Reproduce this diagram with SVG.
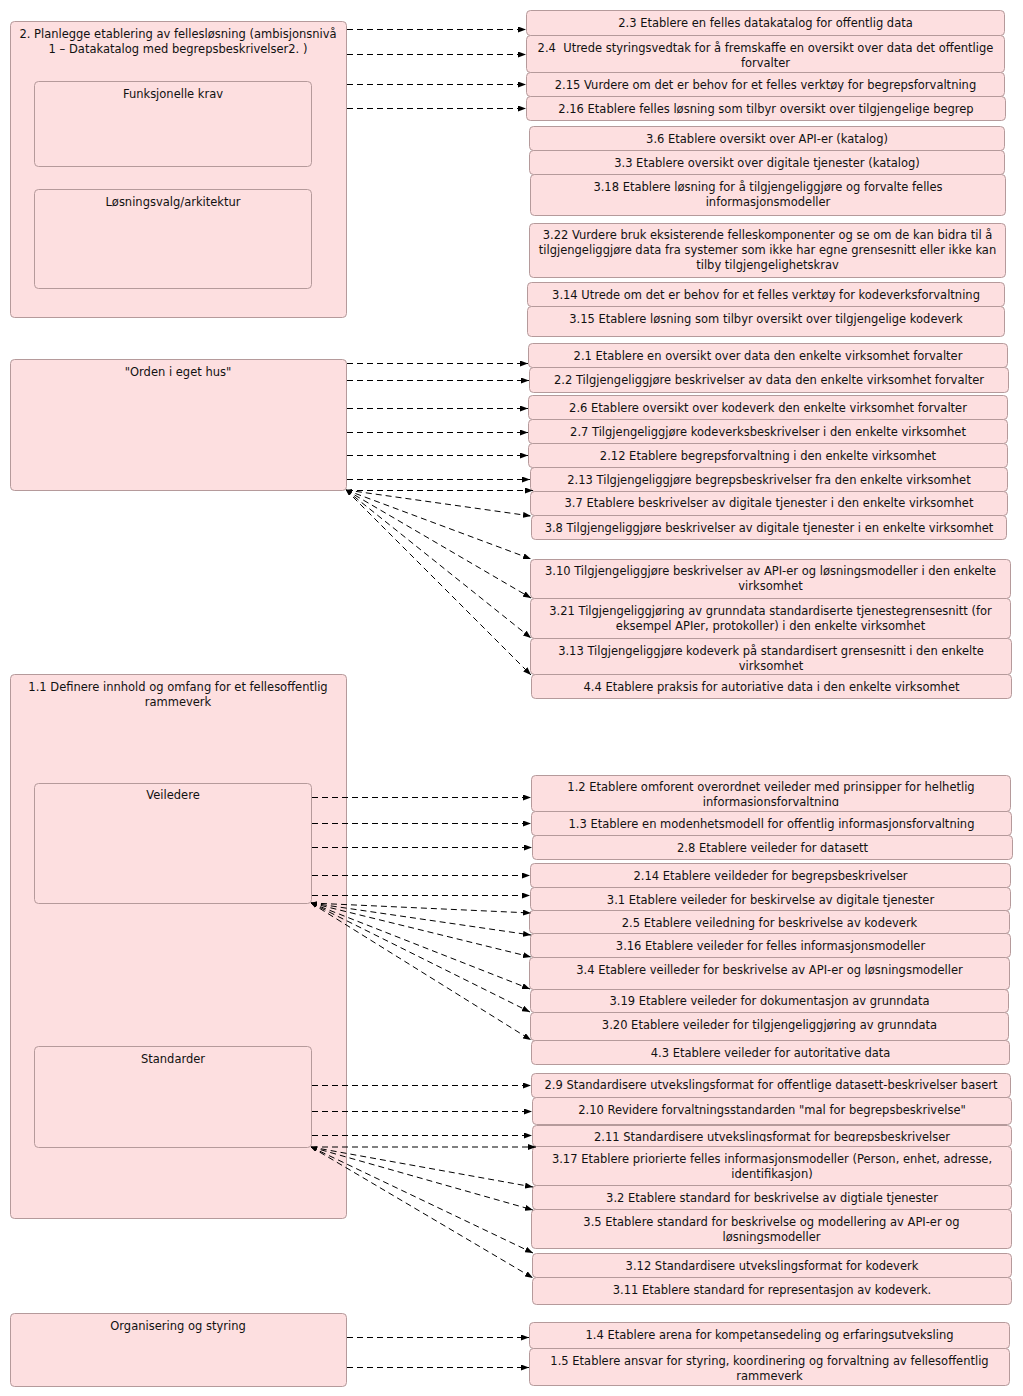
<svg xmlns="http://www.w3.org/2000/svg" width="1023" height="1396" viewBox="0 0 1023 1396">
<style>
.n rect{fill:#fddfe0;stroke:#b59a9b;stroke-width:1}
text{font-family:"DejaVu Sans","Verdana",sans-serif;font-size:11.5px;fill:#111;text-anchor:middle}
.c line{stroke:#000;stroke-width:1;stroke-dasharray:6,4;fill:none;marker-end:url(#ah)}
.c line.d{marker-start:url(#as)}
</style>
<defs>
<marker id="ah" markerUnits="userSpaceOnUse" viewBox="0 0 8 6" markerWidth="8" markerHeight="6" refX="8" refY="3" orient="auto"><path d="M0,0 L8,3 L0,6 z" fill="#000"/></marker>
<marker id="as" markerUnits="userSpaceOnUse" viewBox="0 0 6 4" markerWidth="6" markerHeight="4" refX="6" refY="2" orient="auto-start-reverse"><path d="M0,0 L6,2 L0,4 z" fill="#000"/></marker>
<clipPath id="cl12"><rect x="531" y="775" width="479" height="31"/></clipPath>
<clipPath id="cl211"><rect x="532" y="1125" width="479" height="16.5"/></clipPath>
</defs>

<!-- Left container nodes -->
<g id="n-plan" class="n"><rect x="10.5" y="21.5" width="336" height="296" rx="4"/><text x="178" y="38">2. Planlegge etablering av fellesløsning (ambisjonsnivå</text><text x="178" y="53">1 – Datakatalog med begrepsbeskrivelser2. )</text></g>
<g id="n-funk" class="n"><rect x="34.5" y="81.5" width="277" height="85" rx="4"/><text x="173" y="98">Funksjonelle krav</text></g>
<g id="n-losn" class="n"><rect x="34.5" y="189.5" width="277" height="99" rx="4"/><text x="173" y="206">Løsningsvalg/arkitektur</text></g>
<g id="n-orden" class="n"><rect x="10.5" y="359.5" width="336" height="131" rx="4"/><text x="178" y="376">"Orden i eget hus"</text></g>
<g id="n-11" class="n"><rect x="10.5" y="674.5" width="336" height="544" rx="4"/><text x="178" y="691">1.1 Definere innhold og omfang for et fellesoffentlig</text><text x="178" y="706">rammeverk</text></g>
<g id="n-veil" class="n"><rect x="34.5" y="783.5" width="277" height="120" rx="4"/><text x="173" y="799">Veiledere</text></g>
<g id="n-stand" class="n"><rect x="34.5" y="1046.5" width="277" height="101" rx="4"/><text x="173" y="1063">Standarder</text></g>
<g id="n-org" class="n"><rect x="10.5" y="1313.5" width="336" height="73" rx="4"/><text x="178" y="1330">Organisering og styring</text></g>

<!-- Right nodes: plan group -->
<g id="n-2-3" class="n"><rect x="526.5" y="10.5" width="478" height="25" rx="4"/><text x="765.5" y="27">2.3 Etablere en felles datakatalog for offentlig data</text></g>
<g id="n-2-4" class="n"><rect x="526.5" y="35.5" width="478" height="37" rx="4"/><text x="765.5" y="52">2.4 &#160;Utrede styringsvedtak for å fremskaffe en oversikt over data det offentlige</text><text x="765.5" y="67">forvalter</text></g>
<g id="n-2-15" class="n"><rect x="526.5" y="72.5" width="478" height="24" rx="4"/><text x="765.5" y="89">2.15 Vurdere om det er behov for et felles verktøy for begrepsforvaltning</text></g>
<g id="n-2-16" class="n"><rect x="526.5" y="96.5" width="479" height="24" rx="4"/><text x="766" y="113">2.16 Etablere felles løsning som tilbyr oversikt over tilgjengelige begrep</text></g>
<g id="n-3-6" class="n"><rect x="529.5" y="126.5" width="475" height="24" rx="4"/><text x="767" y="143">3.6 Etablere oversikt over API-er (katalog)</text></g>
<g id="n-3-3" class="n"><rect x="529.5" y="150.5" width="475" height="24" rx="4"/><text x="767" y="167">3.3 Etablere oversikt over digitale tjenester (katalog)</text></g>
<g id="n-3-18" class="n"><rect x="530.5" y="174.5" width="475" height="41" rx="4"/><text x="768" y="191">3.18 Etablere løsning for å tilgjengeliggjøre og forvalte felles</text><text x="768" y="206">informasjonsmodeller</text></g>
<g id="n-3-22" class="n"><rect x="529.5" y="223.5" width="476" height="54" rx="4"/><text x="767.5" y="239">3.22 Vurdere bruk eksisterende felleskomponenter og se om de kan bidra til å</text><text x="767.5" y="254">tilgjengeliggjøre data fra systemer som ikke har egne grensesnitt eller ikke kan</text><text x="767.5" y="269">tilby tilgjengelighetskrav</text></g>
<g id="n-3-14" class="n"><rect x="527.5" y="282.5" width="477" height="24" rx="4"/><text x="766" y="299">3.14 Utrede om det er behov for et felles verktøy for kodeverksforvaltning</text></g>
<g id="n-3-15" class="n"><rect x="527.5" y="306.5" width="477" height="30" rx="4"/><text x="766" y="323">3.15 Etablere løsning som tilbyr oversikt over tilgjengelige kodeverk</text></g>

<!-- Orden group -->
<g id="n-2-1" class="n"><rect x="528.5" y="343.5" width="479" height="24" rx="4"/><text x="768" y="360">2.1 Etablere en oversikt over data den enkelte virksomhet forvalter</text></g>
<g id="n-2-2" class="n"><rect x="529.5" y="367.5" width="479" height="25" rx="4"/><text x="769" y="384">2.2 Tilgjengeliggjøre beskrivelser av data den enkelte virksomhet forvalter</text></g>
<g id="n-2-6" class="n"><rect x="528.5" y="395.5" width="479" height="24" rx="4"/><text x="768" y="412">2.6 Etablere oversikt over kodeverk den enkelte virksomhet forvalter</text></g>
<g id="n-2-7" class="n"><rect x="528.5" y="419.5" width="479" height="24" rx="4"/><text x="768" y="436">2.7 Tilgjengeliggjøre kodeverksbeskrivelser i den enkelte virksomhet</text></g>
<g id="n-2-12" class="n"><rect x="528.5" y="443.5" width="479" height="24" rx="4"/><text x="768" y="460">2.12 Etablere begrepsforvaltning i den enkelte virksomhet</text></g>
<g id="n-2-13" class="n"><rect x="530.5" y="467.5" width="477" height="24" rx="4"/><text x="769" y="484">2.13 Tilgjengeliggjøre begrepsbeskrivelser fra den enkelte virksomhet</text></g>
<g id="n-3-7" class="n"><rect x="530.5" y="491.5" width="477" height="24" rx="4"/><text x="769" y="507">3.7 Etablere beskrivelser av digitale tjenester i den enkelte virksomhet</text></g>
<g id="n-3-8" class="n"><rect x="531.5" y="515.5" width="475" height="24" rx="4"/><text x="769" y="532">3.8 Tilgjengeliggjøre beskrivelser av digitale tjenester i en enkelte virksomhet</text></g>
<g id="n-3-10" class="n"><rect x="530.5" y="559.5" width="480" height="39" rx="4"/><text x="770.5" y="575">3.10 Tilgjengeliggjøre beskrivelser av API-er og løsningsmodeller i den enkelte</text><text x="770.5" y="590">virksomhet</text></g>
<g id="n-3-21" class="n"><rect x="530.5" y="598.5" width="480" height="40" rx="4"/><text x="770.5" y="615">3.21 Tilgjengeliggjøring av grunndata standardiserte tjenestegrensesnitt (for</text><text x="770.5" y="630">eksempel APIer, protokoller) i den enkelte virksomhet</text></g>
<g id="n-3-13" class="n"><rect x="530.5" y="638.5" width="481" height="36" rx="4"/><text x="771" y="655">3.13 Tilgjengeliggjøre kodeverk på standardisert grensesnitt i den enkelte</text><text x="771" y="670">virksomhet</text></g>
<g id="n-4-4" class="n"><rect x="531.5" y="674.5" width="480" height="24" rx="4"/><text x="771.5" y="691">4.4 Etablere praksis for autoriative data i den enkelte virksomhet</text></g>

<!-- Veiledere group -->
<g id="n-1-2" class="n"><rect x="531.5" y="775.5" width="479" height="36" rx="4"/><g clip-path="url(#cl12)"><text x="771" y="791">1.2 Etablere omforent overordnet veileder med prinsipper for helhetlig</text><text x="771" y="806">informasjonsforvaltning</text></g></g>
<g id="n-1-3" class="n"><rect x="531.5" y="811.5" width="480" height="24" rx="4"/><text x="771.5" y="828">1.3 Etablere en modenhetsmodell for offentlig informasjonsforvaltning</text></g>
<g id="n-2-8" class="n"><rect x="532.5" y="835.5" width="480" height="24" rx="4"/><text x="772.5" y="852">2.8 Etablere veileder for datasett</text></g>
<g id="n-2-14" class="n"><rect x="530.5" y="863.5" width="480" height="24" rx="4"/><text x="770.5" y="880">2.14 Etablere veildeder for begrepsbeskrivelser</text></g>
<g id="n-3-1" class="n"><rect x="530.5" y="887.5" width="480" height="23" rx="4"/><text x="770.5" y="904">3.1 Etablere veileder for beskirvelse av digitale tjenester</text></g>
<g id="n-2-5" class="n"><rect x="529.5" y="910.5" width="480" height="23" rx="4"/><text x="769.5" y="927">2.5 Etablere veiledning for beskrivelse av kodeverk</text></g>
<g id="n-3-16" class="n"><rect x="530.5" y="933.5" width="480" height="24" rx="4"/><text x="770.5" y="950">3.16 Etablere veileder for felles informasjonsmodeller</text></g>
<g id="n-3-4" class="n"><rect x="529.5" y="957.5" width="480" height="32" rx="4"/><text x="769.5" y="974">3.4 Etablere veilleder for beskrivelse av API-er og løsningsmodeller</text></g>
<g id="n-3-19" class="n"><rect x="530.5" y="989.5" width="478" height="23" rx="4"/><text x="769.5" y="1005">3.19 Etablere veileder for dokumentasjon av grunndata</text></g>
<g id="n-3-20" class="n"><rect x="530.5" y="1012.5" width="478" height="28" rx="4"/><text x="769.5" y="1029">3.20 Etablere veileder for tilgjengeliggjøring av grunndata</text></g>
<g id="n-4-3" class="n"><rect x="531.5" y="1040.5" width="478" height="24" rx="4"/><text x="770.5" y="1057">4.3 Etablere veileder for autoritative data</text></g>

<!-- Standarder group -->
<g id="n-2-9" class="n"><rect x="531.5" y="1073.5" width="479" height="24" rx="4"/><text x="771" y="1089">2.9 Standardisere utvekslingsformat for offentlige datasett-beskrivelser basert</text></g>
<g id="n-2-10" class="n"><rect x="532.5" y="1097.5" width="479" height="27" rx="4"/><text x="772" y="1114">2.10 Revidere forvaltningsstandarden "mal for begrepsbeskrivelse"</text></g>
<g id="n-2-11" class="n"><rect x="532.5" y="1125.5" width="479" height="21" rx="4"/><g clip-path="url(#cl211)"><text x="772" y="1141">2.11 Standardisere utvekslingsformat for begrepsbeskrivelser</text></g></g>
<g id="n-3-17" class="n"><rect x="532.5" y="1146.5" width="479" height="39" rx="4"/><text x="772" y="1163">3.17 Etablere priorierte felles informasjonsmodeller (Person, enhet, adresse,</text><text x="772" y="1178">identifikasjon)</text></g>
<g id="n-3-2" class="n"><rect x="532.5" y="1185.5" width="479" height="24" rx="4"/><text x="772" y="1202">3.2 Etablere standard for beskrivelse av digtiale tjenester</text></g>
<g id="n-3-5" class="n"><rect x="531.5" y="1209.5" width="480" height="39" rx="4"/><text x="771.5" y="1226">3.5 Etablere standard for beskrivelse og modellering av API-er og</text><text x="771.5" y="1241">løsningsmodeller</text></g>
<g id="n-3-12" class="n"><rect x="532.5" y="1253.5" width="479" height="24" rx="4"/><text x="772" y="1270">3.12 Standardisere utvekslingsformat for kodeverk</text></g>
<g id="n-3-11" class="n"><rect x="532.5" y="1277.5" width="479" height="27" rx="4"/><text x="772" y="1294">3.11 Etablere standard for representasjon av kodeverk.</text></g>

<!-- Org group -->
<g id="n-1-4" class="n"><rect x="529.5" y="1322.5" width="480" height="26" rx="4"/><text x="769.5" y="1339">1.4 Etablere arena for kompetansedeling og erfaringsutveksling</text></g>
<g id="n-1-5" class="n"><rect x="529.5" y="1348.5" width="480" height="37" rx="4"/><text x="769.5" y="1365">1.5 Etablere ansvar for styring, koordinering og forvaltning av fellesoffentlig</text><text x="769.5" y="1380">rammeverk</text></g>

<!-- Connectors -->
<g id="connectors" class="c">
<line x1="347" y1="29.5" x2="526" y2="29.5"/>
<line x1="347" y1="54.5" x2="526" y2="54.5"/>
<line x1="347" y1="84.5" x2="526" y2="84.5"/>
<line x1="347" y1="108.5" x2="526" y2="108.5"/>

<line x1="347" y1="363.5" x2="528" y2="363.5"/>
<line x1="347" y1="380.5" x2="529" y2="380.5"/>
<line x1="347" y1="408.5" x2="528" y2="408.5"/>
<line x1="347" y1="432.5" x2="528" y2="432.5"/>
<line x1="347" y1="455.5" x2="528" y2="455.5"/>
<line x1="347" y1="479.5" x2="530" y2="479.5"/>
<line x1="347" y1="490.5" x2="533" y2="490.5"/>
<line class="d" x1="346" y1="490" x2="531" y2="516"/>
<line class="d" x1="346" y1="490" x2="531" y2="559"/>
<line class="d" x1="346" y1="490" x2="531" y2="598"/>
<line class="d" x1="346" y1="490" x2="531" y2="638"/>
<line class="d" x1="346" y1="490" x2="531" y2="675"/>

<line x1="312" y1="797.5" x2="531" y2="797.5"/>
<line x1="312" y1="823.5" x2="531" y2="823.5"/>
<line x1="312" y1="847.5" x2="532" y2="847.5"/>
<line x1="312" y1="875.5" x2="530" y2="875.5"/>
<line x1="312" y1="895.5" x2="530" y2="895.5"/>
<line class="d" x1="311" y1="903" x2="531" y2="913"/>
<line class="d" x1="311" y1="903" x2="531" y2="935"/>
<line class="d" x1="311" y1="903" x2="531" y2="957"/>
<line class="d" x1="311" y1="903" x2="530" y2="989"/>
<line class="d" x1="311" y1="903" x2="530" y2="1012"/>
<line class="d" x1="311" y1="903" x2="531" y2="1040"/>

<line x1="312" y1="1085.5" x2="531" y2="1085.5"/>
<line x1="312" y1="1111.5" x2="532" y2="1111.5"/>
<line x1="312" y1="1135.5" x2="532" y2="1135.5"/>
<line x1="312" y1="1147" x2="536" y2="1147"/>
<line class="d" x1="311" y1="1147" x2="533" y2="1187"/>
<line class="d" x1="311" y1="1147" x2="533" y2="1210"/>
<line class="d" x1="311" y1="1147" x2="533" y2="1253"/>
<line class="d" x1="311" y1="1147" x2="533" y2="1278"/>

<line x1="347" y1="1337.5" x2="529" y2="1337.5"/>
<line x1="347" y1="1367.5" x2="529" y2="1367.5"/>
</g>
</svg>
